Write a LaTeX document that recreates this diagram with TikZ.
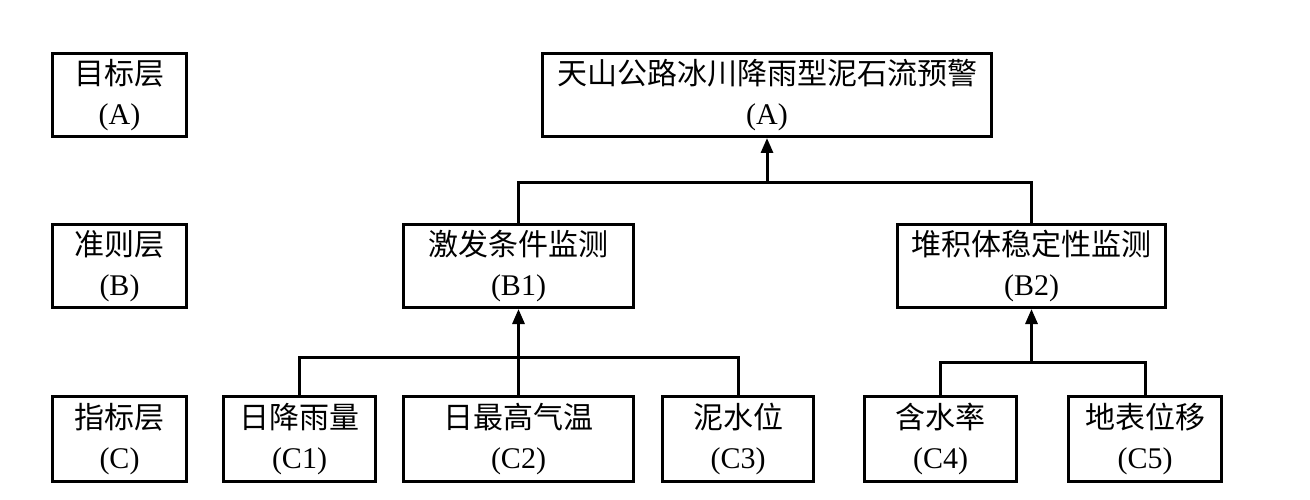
\documentclass[tikz,border=0pt]{standalone}
\usepackage{fontspec}
\setmainfont{Liberation Serif}
\newfontfamily\cjk{Noto Sans CJK SC}
\usetikzlibrary{arrows.meta}
\tikzset{
  box/.style={draw=black, line width=3pt, inner sep=0pt, align=center,
    font=\fontsize{30}{40}\selectfont},
  wire/.style={draw=black, line width=3pt},
  arr/.style={wire, -{Triangle[length=15pt,width=12pt]}}
}
\begin{document}
\begin{tikzpicture}[x=1pt,y=-1pt]
\useasboundingbox (0,0) rectangle (1310,500);
% layer labels
\node[box, minimum width=134, minimum height=83] (LA) at (119.5,95) {{\cjk 目标层}\\(A)};
\node[box, minimum width=134, minimum height=83] (LB) at (119.5,266) {{\cjk 准则层}\\(B)};
\node[box, minimum width=134, minimum height=85] (LC) at (119.5,439) {{\cjk 指标层}\\(C)};
% goal
\node[box, minimum width=449, minimum height=83] (A) at (767,95) {{\cjk 天山公路冰川降雨型泥石流预警}\\(A)};
% criteria
\node[box, minimum width=230, minimum height=83] (B1) at (518.5,266) {{\cjk 激发条件监测}\\(B1)};
\node[box, minimum width=268, minimum height=83] (B2) at (1031.5,266) {{\cjk 堆积体稳定性监测}\\(B2)};
% indicators
\node[box, minimum width=152, minimum height=85] (C1) at (299.5,439) {{\cjk 日降雨量}\\(C1)};
\node[box, minimum width=230, minimum height=85] (C2) at (518.5,439) {{\cjk 日最高气温}\\(C2)};
\node[box, minimum width=151, minimum height=85] (C3) at (738,439) {{\cjk 泥水位}\\(C3)};
\node[box, minimum width=152, minimum height=85] (C4) at (940.5,439) {{\cjk 含水率}\\(C4)};
\node[box, minimum width=153, minimum height=85] (C5) at (1145,439) {{\cjk 地表位移}\\(C5)};
% junctions
\coordinate (jA) at (767,183);
\path (B1.south) ++(0,48) coordinate (jB1);
\path (B2.south) ++(0,53) coordinate (jB2);
% connectors
\draw[wire] (B1.north) |- (jA) -| (B2.north);
\draw[arr] (jA) -- (A.south);
\draw[wire] (C1.north) |- (jB1) -| (C3.north);
\draw[wire] (C2.north) -- (jB1);
\draw[arr] (jB1) -- (B1.south);
\draw[wire] (C4.north) |- (jB2) -| (C5.north);
\draw[arr] (jB2) -- (B2.south);
\end{tikzpicture}
\end{document}
